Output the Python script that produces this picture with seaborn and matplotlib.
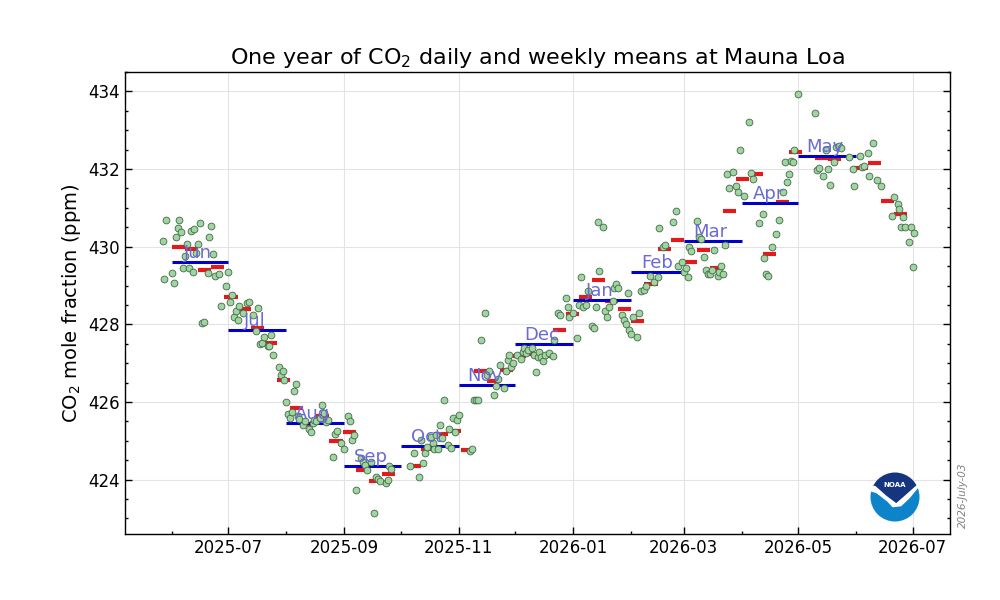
import numpy as np
import pandas as pd
import seaborn as sns
import matplotlib.pyplot as plt
import matplotlib.dates as mdates
from matplotlib.ticker import MultipleLocator
from matplotlib.patches import Circle, Polygon

nan = np.nan

# daily means (ppm), one value per day starting 2025-05-27, nan = no data
may25 = [430.14, 429.16, 430.70, nan, nan]
jun25 = [429.31, 429.06, 430.25, 430.49, 430.68, 430.38, 429.46, 429.77, 430.07, 429.44,
         430.40, 429.34, 430.45, 429.85, 430.06, 430.60, 428.03, 428.05, nan, 429.31,
         430.24, 430.53, 429.80, 429.25, nan, 429.30, 428.47, nan, nan, 428.99]
jul25 = [429.34, 428.57, 428.75, 428.20, 428.34, 428.11, 428.47, nan, 428.30, nan,
         428.54, 428.58, nan, 428.25, nan, 427.83, 428.41, 427.49, 427.52, 427.68,
         nan, 427.45, 427.43, 427.73, 427.21, nan, nan, 426.91, 426.70, 426.80, 426.57]
aug25 = [426.00, 425.70, 425.60, 425.73, 426.29, 426.47, 425.65, 425.55, nan, 425.40,
         425.50, nan, 425.30, 425.22, 425.45, 425.54, 425.50, nan, 425.60, 425.93,
         425.71, 425.48, 425.54, nan, nan, 424.58, 425.18, 425.26, nan, 424.95, nan]
sep25 = [424.80, nan, 425.64, 425.52, 425.03, 425.16, 423.74, nan, nan, 424.55,
         424.45, 424.39, 424.26, nan, 424.45, nan, 423.14, 424.08, 424.02, 423.96,
         nan, nan, 423.91, 424.00, 424.34, 424.27, nan, nan, nan, nan]
oct25 = [nan, nan, nan, nan, nan, 424.35, nan, 424.69, nan, nan,
         424.07, 425.03, 424.43, 424.69, 424.83, nan, 425.11, 424.94, 424.79, 425.15,
         424.80, 425.41, 425.07, 426.06, nan, 424.90, 425.30, 424.81, 425.59, 425.24, 425.54]
nov25 = [425.67, nan, nan, nan, nan, nan, 424.75, 424.80, 426.04, 426.05,
         426.06, nan, 427.60, nan, 428.29, 426.70, 426.81, nan, nan, 426.19,
         426.40, 426.60, 426.96, nan, 426.36, 426.80, 427.07, 427.21, 426.91, 427.00]
dec25 = [nan, 427.20, nan, 427.10, 427.30, 427.39, 427.25, 427.34, nan, 427.39,
         427.20, 426.78, 427.17, 427.30, 427.15, 427.05, 427.20, nan, 427.25, nan,
         427.19, 427.60, nan, 428.29, 428.24, nan, nan, 428.67, 428.45, 428.20, nan]
jan26 = [428.30, nan, 427.64, 428.50, 429.21, 428.45, nan, 428.50, 428.85, nan,
         427.96, 427.90, 428.45, 430.64, 429.38, nan, 430.50, 428.34, 428.20, 428.45,
         nan, 428.60, 428.94, 429.05, 428.94, nan, 428.25, 428.10, 428.00, 428.80, 427.85]
feb26 = [427.75, 428.20, nan, 427.68, 428.30, 428.87, nan, 428.88, 429.00, nan,
         429.24, nan, 429.10, nan, 429.23, 430.47, nan, 430.00, 430.05, nan,
         nan, nan, 430.64, nan, 430.92, 429.50, nan, 429.61]
mar26 = [429.35, 429.45, 429.23, 430.00, 429.90, nan, nan, 430.67, 430.25, 430.20,
         nan, 429.74, 429.40, 429.30, 429.30, 429.40, 429.91, nan, 429.25, 429.35,
         429.50, 429.30, 430.04, 431.88, 431.50, nan, 431.93, nan, 431.56, 431.41, 432.50]
apr26 = [nan, 431.30, nan, nan, 433.21, 431.90, 431.75, nan, nan, 430.62,
         nan, 430.83, 429.71, 429.30, 429.25, nan, 429.99, nan, 430.34, nan,
         430.70, nan, 431.41, 432.18, 431.67, 431.87, 432.20, 432.18, 432.48, nan]
may26 = [433.94, nan, nan, nan, nan, nan, nan, nan, nan, 433.45,
         431.97, 432.04, nan, 431.81, nan, 432.48, 432.01, 431.58, nan, 432.18,
         432.57, nan, 432.60, 432.53, nan, nan, nan, 432.31, nan, 431.99, 431.56]
jun26 = [nan, nan, 432.33, 432.05, 432.07, nan, 432.41, 431.81, nan, 432.66,
         nan, 431.71, nan, 431.56, nan, nan, nan, nan, nan, 430.79,
         431.27, nan, 431.11, 430.96, 430.51, 430.77, 430.51, nan, 430.12, 430.50]
jul26 = [429.48, 430.36]

# weekly means, weeks starting 2025-06-01
weekly_ppm = [430.00, 429.93, 429.40, 429.47, 428.70, 428.40, 427.90, 427.52, 426.57, 425.85,
              425.44, 425.65, 425.00, 425.23, 424.26, 423.97, 424.15, nan, 424.36, 424.80,
              425.18, 425.26, 424.77, 426.80, 426.54, 426.83, 427.19, 427.24, 427.19, 427.86,
              428.27, 428.70, 429.14, 428.60, 428.40, 428.09, 429.04, 429.93, 430.17, 429.60,
              429.91, 429.45, 430.92, 431.74, 431.87, 429.81, 431.15, 432.43, nan, 432.28,
              432.25, nan, 432.02, 432.15, 431.17, 430.84]

# monthly means, June 2025 .. May 2026
monthly_ppm = [429.60, 427.86, 425.47, 424.36, 424.87, 426.44,
               427.50, 428.63, 429.35, 430.14, 431.12, 432.33]
month_labels = ['Jun', 'Jul', 'Aug', 'Sep', 'Oct', 'Nov',
                'Dec', 'Jan', 'Feb', 'Mar', 'Apr', 'May']

daily_ppm = (may25 + jun25 + jul25 + aug25 + sep25 + oct25 + nov25 + dec25
             + jan26 + feb26 + mar26 + apr26 + may26 + jun26 + jul26)
daily = pd.DataFrame({'date': pd.date_range('2025-05-27', periods=len(daily_ppm), freq='D'),
                      'ppm': daily_ppm}).dropna()

week_start = pd.date_range('2025-06-01', periods=len(weekly_ppm), freq='7D')
week_end = week_start + pd.Timedelta(days=7)
month_start = pd.date_range('2025-06-01', periods=len(monthly_ppm), freq='MS')
month_end = month_start + pd.offsets.MonthBegin(1)

sns.set_style("ticks", {"axes.edgecolor": "black", "xtick.color": "black",
                        "ytick.color": "black", "text.color": "black",
                        "axes.labelcolor": "black"})
plt.rcParams['font.family'] = ['DejaVu Sans']

fig, ax = plt.subplots(figsize=(10, 6), dpi=100)
fig.subplots_adjust(left=0.125, right=0.95, bottom=0.11, top=0.88)

ax.hlines(weekly_ppm, week_start, week_end, colors='#e31a1c', lw=3, zorder=2, capstyle='butt')
ax.hlines(monthly_ppm, month_start, month_end, colors='#0000c8', lw=2.2, zorder=3, capstyle='butt')
sns.scatterplot(data=daily, x='date', y='ppm', ax=ax, s=24, color='#9fd59f',
                edgecolor='#44664a', linewidth=0.6, zorder=4)

for start, val, lab in zip(month_start, monthly_ppm, month_labels):
    ax.text(start + pd.Timedelta(days=14), val + 0.1, lab, ha='center', va='baseline',
            fontsize=13, color='#6a6ad6', zorder=5)

ax.set_xlim(pd.Timestamp('2025-05-07'), pd.Timestamp('2026-07-21'))
ax.set_ylim(422.6, 434.5)
ax.xaxis.set_major_locator(mdates.MonthLocator(bymonth=[1, 3, 5, 7, 9, 11]))
ax.xaxis.set_minor_locator(mdates.MonthLocator())
ax.xaxis.set_major_formatter(mdates.DateFormatter('%Y-%m'))
ax.yaxis.set_major_locator(MultipleLocator(2))
ax.yaxis.set_minor_locator(MultipleLocator(0.5))
ax.tick_params(which='both', direction='in', right=True, top=False, labelsize=12, width=1)
ax.tick_params(which='major', length=5)
ax.tick_params(which='minor', length=2.5)
ax.grid(True, which='major', color='#e3e3e3', lw=0.8)
for sp in ax.spines.values():
    sp.set_visible(True)
    sp.set_linewidth(1)

ax.set_xlabel('')
ax.set_ylabel('CO$_2$ mole fraction (ppm)', fontsize=14)
ax.set_title('One year of CO$_2$ daily and weekly means at Mauna Loa', fontsize=16)

fig.text(0.963, 0.12, '2026-July-03', rotation=90, fontsize=7.5, style='italic',
         color='gray', ha='center', va='bottom')

# NOAA logo
lax = fig.add_axes([0.87, 0.13, 0.05, 0.05 * 10 / 6])
lax.set_xlim(-1.02, 1.02)
lax.set_ylim(-1.02, 1.02)
lax.axis('off')
circ = Circle((0, 0), 1, facecolor='white', edgecolor='none')
lax.add_patch(circ)
navy = Polygon([(-1.2, 1.2), (1.2, 1.2), (1.2, 0.5), (0.9, 0.5), (0.45, 0.1), (0.05, -0.25),
                (-0.35, 0.05), (-0.8, 0.45), (-1.2, 0.5)], closed=True,
               facecolor='#15357f', edgecolor='none')
lax.add_patch(navy)
navy.set_clip_path(circ)
light = Polygon([(-1.2, 0.3), (-0.75, 0.15), (-0.3, -0.2), (-0.1, -0.42), (0.25, -0.38),
                 (0.6, -0.05), (0.95, 0.38), (1.2, 0.4), (1.2, -1.2), (-1.2, -1.2)],
                closed=True, facecolor='#0d84c9', edgecolor='none')
lax.add_patch(light)
light.set_clip_path(circ)
lax.text(0, 0.5, 'NOAA', color='white', fontsize=5, fontweight='bold', ha='center', va='center')

fig.savefig('out.png', dpi=100)
